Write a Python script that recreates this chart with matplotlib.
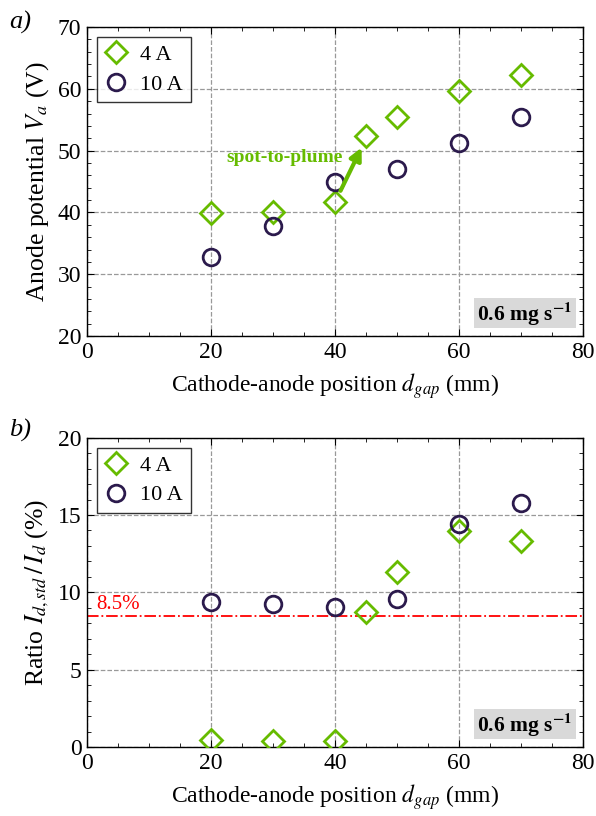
import matplotlib
matplotlib.use("Agg")
import matplotlib.pyplot as plt
from matplotlib.ticker import MultipleLocator
from matplotlib.patches import Rectangle

plt.rcParams['font.family'] = ['Liberation Serif', 'DejaVu Serif']
plt.rcParams['mathtext.fontset'] = 'stix'

gap_4A_a = [20, 30, 40, 45, 50, 60, 70]
va_4A = [39.9, 40.0, 41.7, 52.3, 55.4, 59.7, 62.2]
gap_10A_a = [20, 30, 40, 50, 60, 70]
va_10A = [32.8, 37.8, 45.0, 47.1, 51.3, 55.5]

gap_4A_b = [20, 30, 40, 45, 50, 60, 70]
ratio_4A = [0.45, 0.4, 0.41, 8.74, 11.3, 13.98, 13.35]
gap_10A_b = [20, 30, 40, 50, 60, 70]
ratio_10A = [9.39, 9.26, 9.06, 9.6, 14.43, 15.8]

threshold = 8.5

green = '#66bb00'
purple = '#2b1a4c'
FS = 17

fig = plt.figure(figsize=(5.96, 8.16), dpi=100)
ax1 = fig.add_axes([0.146, 0.588, 0.832, 0.379])
ax2 = fig.add_axes([0.146, 0.0846, 0.832, 0.379])

for ax in (ax1, ax2):
    ax.set_xlim(0, 80)
    ax.xaxis.set_major_locator(MultipleLocator(20))
    ax.xaxis.set_minor_locator(MultipleLocator(5))
    ax.tick_params(which='both', direction='in', top=True, right=True, labelsize=FS)
    ax.tick_params(which='major', length=5, pad=4)
    ax.tick_params(which='minor', length=3)
    ax.grid(True, which='major', linestyle='--', color='#999999', linewidth=0.9)
    ax.set_axisbelow(True)
    ax.set_xlabel(r'Cathode-anode position $d_{gap}$ (mm)', fontsize=FS, labelpad=6)
    for s in ax.spines.values():
        s.set_linewidth(1.0)

def box(ax):
    ax.add_patch(Rectangle((0.780, 0.026), 0.206, 0.097, transform=ax.transAxes,
                           fc='#d9d9d9', ec='none', zorder=4))
    ax.text(0.883, 0.072, r'0.6 mg s$^{\mathbf{-1}}$', transform=ax.transAxes, fontsize=15.5,
            fontweight='bold', ha='center', va='center', zorder=5)

def legend(ax):
    leg = ax.legend(loc='upper left', fontsize=16, frameon=True, fancybox=False,
                    edgecolor='black', borderpad=0.35, handletextpad=0.6, handlelength=1.0,
                    labelspacing=0.4, borderaxespad=0.45)
    leg.get_frame().set_linewidth(1.0)

ax1.plot(gap_4A_a, va_4A, 'D', mfc='none', mec=green, mew=2, ms=11, label='4 A', zorder=3)
ax1.plot(gap_10A_a, va_10A, 'o', mfc='none', mec=purple, mew=2, ms=12, label='10 A', zorder=3)
ax1.set_ylim(20, 70)
ax1.yaxis.set_major_locator(MultipleLocator(10))
ax1.yaxis.set_minor_locator(MultipleLocator(2))
ax1.set_ylabel(r'Anode potential $V_a$ (V)', fontsize=18.5, labelpad=5)
ax1.annotate('', xy=(44.5, 50.9), xytext=(40.7, 43.1),
             arrowprops=dict(arrowstyle='-|>', color=green, lw=3, mutation_scale=18))
ax1.text(31.9, 48.9, 'spot-to-plume', color=green, fontweight='bold', fontsize=14,
         ha='center', va='center')
box(ax1)
legend(ax1)
fig.text(0.015, 0.973, 'a)', fontsize=19, style='italic', va='center')

ax2.plot(gap_4A_b, ratio_4A, 'D', mfc='none', mec=green, mew=2, ms=11, label='4 A', zorder=3)
ax2.plot(gap_10A_b, ratio_10A, 'o', mfc='none', mec=purple, mew=2, ms=12, label='10 A', zorder=3)
ax2.axhline(threshold, color='red', linestyle='-.', linewidth=1.3, zorder=2)
ax2.text(1.5, threshold + 0.1, '8.5%', color='red', fontsize=15, va='bottom', ha='left')
ax2.set_ylim(0, 20)
ax2.yaxis.set_major_locator(MultipleLocator(5))
ax2.yaxis.set_minor_locator(MultipleLocator(1))
ax2.set_ylabel(r'Ratio $I_{d,std}\,/\,I_d$ (%)', fontsize=18.5, labelpad=5)
box(ax2)
legend(ax2)
fig.text(0.015, 0.473, 'b)', fontsize=19, style='italic', va='center')

fig.savefig('out.png', dpi=100)
